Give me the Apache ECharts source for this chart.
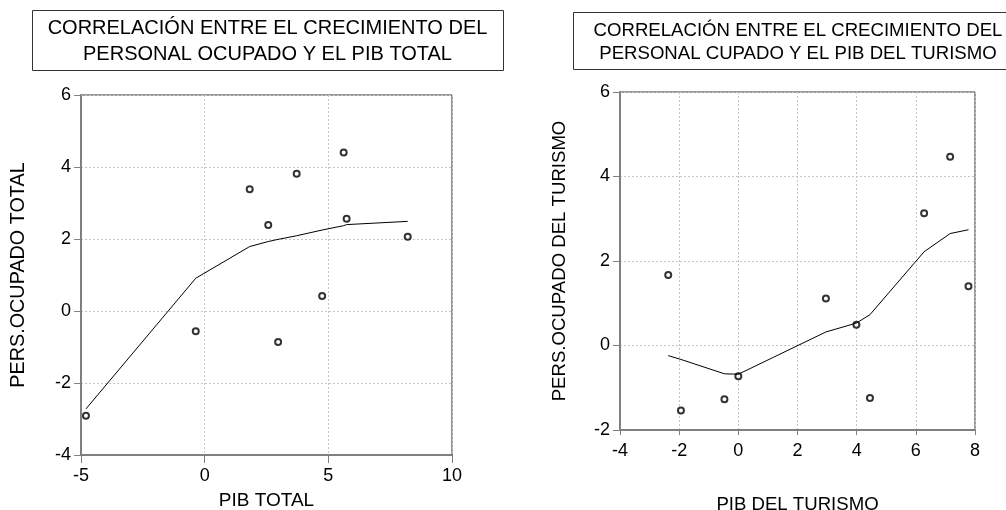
<!DOCTYPE html>
<html>
<head>
<meta charset="utf-8">
<script src="https://cdn.jsdelivr.net/npm/echarts@6/dist/echarts.min.js"></script>
<style>
  html, body { margin: 0; padding: 0; background: #ffffff; }
  #chart { width: 1006px; height: 510px; }
</style>
</head>
<body>
<div id="chart"></div>
<script>
// PIB total vs personal ocupado total
const pibTotal = [-4.80, -0.36, 1.82, 2.57, 2.97, 3.72, 4.75, 5.62, 5.74, 8.21]
const persTotal = [-2.91, -0.56, 3.38, 2.39, -0.86, 3.81, 0.42, 4.40, 2.56, 2.06]
const fitTotal = [-2.72, 0.91, 1.79, 1.93, 1.99, 2.09, 2.25, 2.37, 2.40, 2.49]

// PIB del turismo vs personal ocupado del turismo
const pibTur = [-2.37, -1.94, -0.47, 0.0, 2.96, 3.99, 4.45, 6.28, 7.16, 7.78]
const persTur = [1.67, -1.54, -1.27, -0.73, 1.11, 0.49, -1.24, 3.13, 4.47, 1.40]
const fitTur = [-0.24, -0.33, -0.67, -0.68, 0.32, 0.53, 0.73, 2.22, 2.65, 2.74]

const titleLeft = 'CORRELACIÓN ENTRE EL CRECIMIENTO DEL\nPERSONAL OCUPADO Y EL PIB TOTAL'
const titleRight = 'CORRELACIÓN ENTRE EL CRECIMIENTO DEL\nPERSONAL CUPADO Y EL PIB DEL TURISMO'

const FONT = '"Liberation Sans", Arial, sans-serif'

const zip = (xs, ys) => xs.map((x, i) => [x, ys[i]])

const chart = echarts.init(document.getElementById('chart'))

const gridLine = {show: true, lineStyle: {color: '#c4c4c4', type: [2, 2], width: 1}}

const xAxisBase = (idx, min, max, interval, name, gap, fs, tick) => ({
  type: 'value',
  gridIndex: idx,
  min, max, interval,
  name,
  nameLocation: 'middle',
  nameGap: gap,
  nameTextStyle: {color: '#000', fontSize: fs, fontFamily: FONT},
  axisLine: {show: true, onZero: false, lineStyle: {color: '#808080', width: 2}},
  axisTick: {show: true, length: tick, lineStyle: {color: '#808080', width: 1}},
  axisLabel: {color: '#000', fontSize: 18, fontFamily: FONT, margin: 12},
  splitLine: gridLine
})

const yAxisBase = (idx, min, max, interval, name, gap, fs) => ({
  type: 'value',
  gridIndex: idx,
  min, max, interval,
  name,
  nameLocation: 'middle',
  nameGap: gap,
  nameTextStyle: {color: '#000', fontSize: fs, fontFamily: FONT},
  axisLine: {show: true, onZero: false, lineStyle: {color: '#808080', width: 2}},
  axisTick: {show: true, length: 7, lineStyle: {color: '#808080', width: 1}},
  axisLabel: {color: '#000', fontSize: 18, fontFamily: FONT, margin: 10},
  splitLine: gridLine
})

const option = {
  animation: false,
  backgroundColor: '#ffffff',
  grid: [
    {left: 81, top: 95, width: 371, height: 360, show: true, borderColor: '#333', borderWidth: 1,
     containLabel: false, outerBoundsMode: 'none'},
    {left: 620, top: 92, width: 355, height: 338, show: true, borderColor: '#333', borderWidth: 1,
     containLabel: false, outerBoundsMode: 'none'}
  ],
  xAxis: [
    xAxisBase(0, -5, 10, 5, 'PIB TOTAL', 36, 19, 8),
    xAxisBase(1, -4, 8, 2, 'PIB DEL TURISMO', 65, 18.6, 5)
  ],
  yAxis: [
    yAxisBase(0, -4, 6, 2, 'PERS.OCUPADO TOTAL', 52, 19.8),
    yAxisBase(1, -2, 6, 2, 'PERS.OCUPADO DEL TURISMO', 51, 18.6)
  ],
  graphic: [
    {
      type: 'rect', z: 10,
      shape: {x: 32.5, y: 10.5, width: 471, height: 60},
      style: {fill: '#fff', stroke: '#333', lineWidth: 1}
    },
    {
      type: 'text', z: 11,
      x: 267.5, y: 41,
      style: {text: titleLeft, fontSize: 20, fontFamily: FONT, fill: '#000',
              align: 'center', verticalAlign: 'middle', lineHeight: 26}
    },
    {
      type: 'rect', z: 10,
      shape: {x: 573.5, y: 12.5, width: 450, height: 57},
      style: {fill: '#fff', stroke: '#333', lineWidth: 1}
    },
    {
      type: 'text', z: 11,
      x: 798, y: 42,
      style: {text: titleRight, fontSize: 18.6, fontFamily: FONT, fill: '#000',
              align: 'center', verticalAlign: 'middle', lineHeight: 23}
    }
  ],
  series: [
    {
      type: 'scatter', xAxisIndex: 0, yAxisIndex: 0,
      data: zip(pibTotal, persTotal),
      symbol: 'emptyCircle', symbolSize: 6,
      itemStyle: {color: '#000', borderColor: '#222', borderWidth: 0.7}
    },
    {
      type: 'line', xAxisIndex: 0, yAxisIndex: 0,
      data: zip(pibTotal, fitTotal),
      showSymbol: false,
      lineStyle: {color: '#000', width: 1}
    },
    {
      type: 'scatter', xAxisIndex: 1, yAxisIndex: 1,
      data: zip(pibTur, persTur),
      symbol: 'emptyCircle', symbolSize: 6,
      itemStyle: {color: '#000', borderColor: '#222', borderWidth: 0.7}
    },
    {
      type: 'line', xAxisIndex: 1, yAxisIndex: 1,
      data: zip(pibTur, fitTur),
      showSymbol: false,
      lineStyle: {color: '#000', width: 1}
    }
  ]
}

chart.setOption(option)
</script>
</body>
</html>
